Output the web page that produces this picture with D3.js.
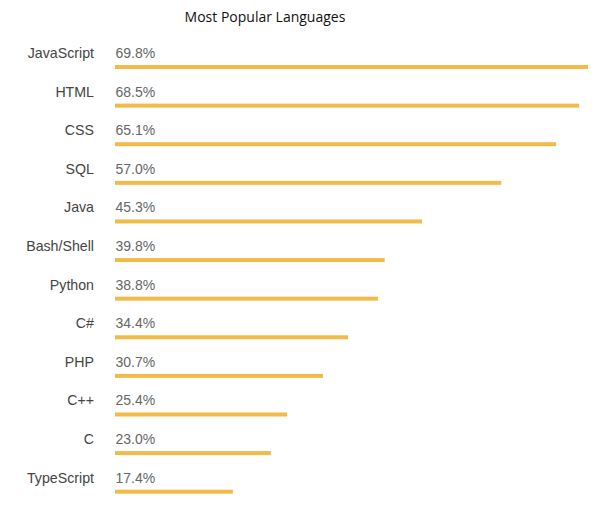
<!DOCTYPE html>
<html><head><meta charset="utf-8">
<script src="https://cdn.jsdelivr.net/npm/d3@7"></script>
<style>body{margin:0;background:#fff;}</style>
</head><body>
<svg id="c" width="600" height="505"></svg>
<script>
const categories = ["JavaScript","HTML","CSS","SQL","Java","Bash/Shell","Python","C#","PHP","C++","C","TypeScript"];
const values = [69.8,68.5,65.1,57.0,45.3,39.8,38.8,34.4,30.7,25.4,23.0,17.4];
const title = "Most Popular Languages";

const svg = d3.select("#c");
const x = d3.scaleLinear().domain([0, 69.8]).range([115, 588]);
const y = d3.scalePoint().domain(categories).range([67, 491.7]);

svg.append("text").attr("x", 265).attr("y", 22).attr("text-anchor","middle")
  .attr("font-family","Open Sans, sans-serif").attr("font-size",14).attr("fill","#111").text(title);

const g = svg.selectAll("g.row").data(categories).join("g");
g.append("rect")
  .attr("x", x(0)).attr("y", d => y(d) - 2)
  .attr("width", (d,i) => x(values[i]) - x(0)).attr("height", 4)
  .attr("fill", "#F2BA48");
g.append("text").attr("x", 94).attr("y", d => y(d) - 9).attr("text-anchor","end")
  .attr("font-family","Liberation Sans, Arial, sans-serif").attr("font-size",14.2).attr("fill","#444")
  .text(d => d);
g.append("text").attr("x", 115.5).attr("y", d => y(d) - 9)
  .attr("font-family","Liberation Sans, Arial, sans-serif").attr("font-size",14).attr("fill","#666")
  .text((d,i) => values[i].toFixed(1) + "%");
</script>
</body></html>
